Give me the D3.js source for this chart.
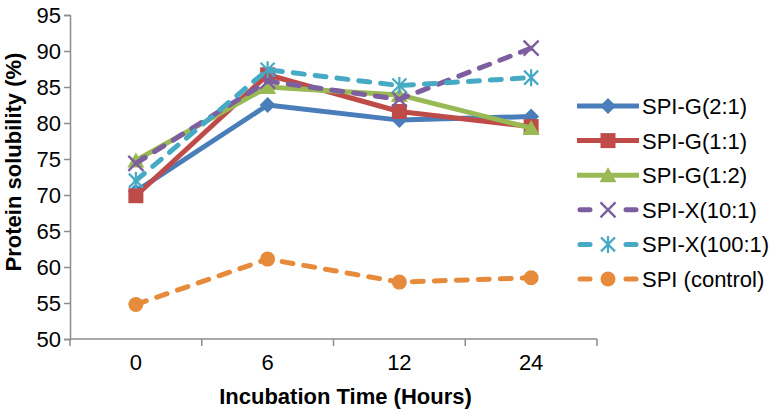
<!DOCTYPE html>
<html>
<head>
<meta charset="utf-8">
<script src="https://cdn.jsdelivr.net/npm/d3@7"></script>
<style>
  html, body { margin: 0; padding: 0; background: #fff; }
  svg { display: block; font-family: "Liberation Sans", Arial, Helvetica, sans-serif; }
</style>
</head>
<body>
<svg id="chart" width="773" height="409"></svg>
<script>
const categories = ["0", "6", "12", "24"];
const seriesNames = ["SPI-G(2:1)", "SPI-G(1:1)", "SPI-G(1:2)", "SPI-X(10:1)", "SPI-X(100:1)", "SPI (control)"];
const spiG21 = [70.5, 82.5, 80.4, 80.9];
const spiG11 = [69.9, 86.7, 81.6, 79.5];
const spiG12 = [74.8, 85.0, 83.9, 79.3];
const spiX101 = [74.4, 85.8, 83.3, 90.4];
const spiX1001 = [72.0, 87.4, 85.2, 86.3];
const spiControl = [54.8, 61.1, 57.9, 58.5];
const yTicks = [50, 55, 60, 65, 70, 75, 80, 85, 90, 95];

(function () {
const seriesValues = [spiG21, spiG11, spiG12, spiX101, spiX1001, spiControl];
const colors = ["#4A7EBB", "#BE4B48", "#98B954", "#7D5FA0", "#46AAC5", "#E68A3C"];
const markers = ["diamond", "square", "triangle", "x", "asterisk", "circle"];
const dashed = [false, false, false, true, true, true];

const svg = d3.select("#chart");
const mLeft = 70, mRight = 597, mTop = 15, mBottom = 339;

const x = d3.scaleBand().domain(categories).range([mLeft, mRight]);
const y = d3.scaleLinear().domain([50, 95]).range([mBottom, mTop]);

const axisColor = "#8c8c8c";

// Y axis
const yAxis = svg.append("g").attr("transform", `translate(${mLeft},0)`)
  .call(d3.axisLeft(y).tickValues(yTicks).tickSize(6).tickPadding(3).tickFormat(d3.format("d")));
yAxis.select(".domain").attr("stroke", axisColor).attr("stroke-width", 1.5);
yAxis.selectAll(".tick line").attr("stroke", axisColor).attr("stroke-width", 1.5);
yAxis.selectAll(".tick text").attr("font-size", 22).attr("fill", "#000")
  .attr("font-family", "'Liberation Sans', Arial, sans-serif");

// X axis: ticks on band boundaries
const xAxisG = svg.append("g").attr("transform", `translate(0,${mBottom})`);
xAxisG.append("line").attr("x1", mLeft).attr("x2", mRight).attr("y1", 0).attr("y2", 0)
  .attr("stroke", axisColor).attr("stroke-width", 1.5);
const boundaries = categories.map(c => x(c)).concat([x(categories[categories.length - 1]) + x.bandwidth()]);
xAxisG.selectAll("line.tk").data(boundaries).join("line").attr("class", "tk")
  .attr("x1", d => d).attr("x2", d => d).attr("y1", 0).attr("y2", 7)
  .attr("stroke", axisColor).attr("stroke-width", 1.5);
xAxisG.selectAll("text.lbl").data(categories).join("text").attr("class", "lbl")
  .attr("x", d => x(d) + x.bandwidth() / 2).attr("y", 31)
  .attr("text-anchor", "middle").attr("font-size", 22).attr("fill", "#000").text(d => d);

// Axis titles
svg.append("text").attr("x", (mLeft + mRight) / 2 + 12).attr("y", 404)
  .attr("text-anchor", "middle").attr("font-size", 22).attr("font-weight", "bold")
  .text("Incubation Time (Hours)");
svg.append("text").attr("transform", `translate(21,${(mTop + mBottom) / 2 - 15}) rotate(-90)`)
  .attr("text-anchor", "middle").attr("font-size", 22).attr("font-weight", "bold")
  .text("Protein solubility (%)");

function drawMarker(g, type, cx, cy, color) {
  if (type === "diamond") {
    g.append("path").attr("d", `M${cx},${cy - 8}L${cx + 8},${cy}L${cx},${cy + 8}L${cx - 8},${cy}Z`).attr("fill", color);
  } else if (type === "square") {
    g.append("rect").attr("x", cx - 7.5).attr("y", cy - 7.5).attr("width", 15).attr("height", 15).attr("fill", color);
  } else if (type === "triangle") {
    g.append("path").attr("d", `M${cx},${cy - 8}L${cx + 8.5},${cy + 7}L${cx - 8.5},${cy + 7}Z`).attr("fill", color);
  } else if (type === "circle") {
    g.append("circle").attr("cx", cx).attr("cy", cy).attr("r", 7.5).attr("fill", color);
  } else if (type === "x") {
    g.append("path").attr("d", `M${cx - 7.5},${cy - 7.5}L${cx + 7.5},${cy + 7.5}M${cx - 7.5},${cy + 7.5}L${cx + 7.5},${cy - 7.5}`)
      .attr("stroke", color).attr("stroke-width", 2.4).attr("fill", "none");
  } else if (type === "asterisk") {
    g.append("path").attr("d", `M${cx - 7},${cy - 7}L${cx + 7},${cy + 7}M${cx - 7},${cy + 7}L${cx + 7},${cy - 7}M${cx},${cy - 8.5}L${cx},${cy + 8.5}`)
      .attr("stroke", color).attr("stroke-width", 2.2).attr("fill", "none");
  }
}

const line = d3.line().x((d, i) => x(categories[i]) + x.bandwidth() / 2).y(d => y(d));

seriesValues.forEach((vals, s) => {
  const g = svg.append("g");
  g.append("path").datum(vals).attr("d", line)
    .attr("fill", "none").attr("stroke", colors[s]).attr("stroke-width", 5)
    .attr("stroke-linecap", dashed[s] ? "round" : "butt")
    .attr("stroke-linejoin", "round")
    .attr("stroke-dasharray", dashed[s] ? "11,11" : null);
  vals.forEach((v, i) => drawMarker(g, markers[s], x(categories[i]) + x.bandwidth() / 2, y(v), colors[s]));
});

// Legend
const legendTop = 106, legendStep = 34.6;
seriesNames.forEach((name, s) => {
  const ly = legendTop + s * legendStep;
  const g = svg.append("g");
  if (dashed[s]) {
    g.append("line").attr("x1", 580).attr("x2", 590).attr("y1", ly).attr("y2", ly)
      .attr("stroke", colors[s]).attr("stroke-width", 5).attr("stroke-linecap", "round");
    g.append("line").attr("x1", 626).attr("x2", 636).attr("y1", ly).attr("y2", ly)
      .attr("stroke", colors[s]).attr("stroke-width", 5).attr("stroke-linecap", "round");
  } else {
    g.append("line").attr("x1", 577).attr("x2", 639).attr("y1", ly).attr("y2", ly)
      .attr("stroke", colors[s]).attr("stroke-width", 5);
  }
  drawMarker(g, markers[s], 608, ly, colors[s]);
  g.append("text").attr("x", 642).attr("y", ly + 8).attr("font-size", 22).attr("fill", "#000").text(name);
});
})();
</script>
</body>
</html>
